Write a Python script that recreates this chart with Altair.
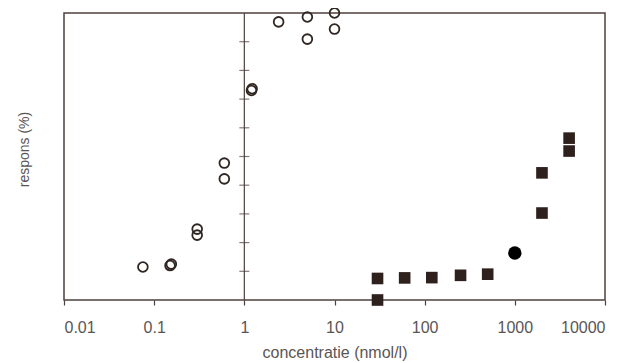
import altair as alt
import pandas as pd

# open circles (agonist 1)
open_x = [0.075, 0.15, 0.155, 0.3, 0.3, 0.6, 0.6, 1.2, 1.22, 2.4, 5, 5, 10, 10]
open_y = [11.5, 12.0, 12.5, 22.6, 24.7, 42.2, 47.7, 73.0, 73.6, 96.9, 98.6, 90.9, 100.0, 94.4]

# filled squares (agonist 2)
sq_x = [30, 30, 60, 120, 250, 500, 2000, 2000, 4000, 4000]
sq_y = [7.5, 0.0, 7.7, 7.8, 8.6, 9.0, 30.3, 44.3, 56.4, 51.9]

# filled circle
dot_x = [1000]
dot_y = [16.4]

x_ticks = [0.01, 0.1, 1, 10, 100, 1000, 10000]
y_ticks = [10, 20, 30, 40, 50, 60, 70, 80, 90]

LINE = "#4d403c"
TEXT = "#5a5555"
FONT = "Liberation Sans"

xscale = alt.Scale(type="log", domain=[0.01, 10000], nice=False)
yscale = alt.Scale(domain=[0, 100], nice=False, zero=False)

xaxis = alt.Axis(
    values=x_ticks, format="~g", grid=False, domain=False,
    tickSize=5, tickColor=LINE, tickWidth=1.2,
    labelFont=FONT, labelFontSize=16, labelColor=TEXT, labelPadding=14,
    title="concentratie (nmol/l)", titleFont=FONT, titleFontSize=16,
    titleFontWeight="normal", titleColor=TEXT,
    titleX=270.5, titleY=52, titleBaseline="middle", titleAlign="center",
)
yaxis = alt.Axis(
    grid=False, domain=False, ticks=False, labels=False,
    title="respons (%)", titleFont=FONT, titleFontSize=14,
    titleFontWeight="normal", titleColor=TEXT,
    titleX=-40, titleY=136, titleAngle=270, titleBaseline="middle", titleAlign="center",
)

open_df = pd.DataFrame({"x": open_x, "y": open_y})
sq_df = pd.DataFrame({"x": sq_x, "y": sq_y})
dot_df = pd.DataFrame({"x": dot_x, "y": dot_y})
vline_df = pd.DataFrame({"x": [1], "y": [0], "y2": [100]})
tick_df = pd.DataFrame({"x": [1] * len(y_ticks), "y": y_ticks})

base_x = alt.X("x:Q", scale=xscale, axis=xaxis)
base_y = alt.Y("y:Q", scale=yscale, axis=yaxis)

vline = alt.Chart(vline_df).mark_rule(color=LINE, strokeWidth=1.2).encode(
    x=base_x, y=base_y, y2="y2:Q"
)
ticks = alt.Chart(tick_df).mark_tick(
    orient="horizontal", size=10, thickness=1.2, color=LINE
).encode(x=base_x, y=base_y)

opens = alt.Chart(open_df).mark_point(
    shape="circle", filled=False, size=95, strokeWidth=1.8, color="#302622", opacity=1
).encode(x=base_x, y=base_y)

squares = alt.Chart(sq_df).mark_point(
    shape="square", filled=True, size=135, color="#2e201c", opacity=1
).encode(x=base_x, y=base_y)

dot = alt.Chart(dot_df).mark_point(
    shape="circle", filled=True, size=180, color="#000000", opacity=1
).encode(x=base_x, y=base_y)

chart = alt.layer(vline, ticks, opens, squares, dot).properties(
    width=541, height=287,
    autosize=alt.AutoSizeParams(type="none"),
    padding={"left": 56, "top": 5, "right": 18, "bottom": 62},
    background="white",
).configure_view(stroke=LINE, strokeWidth=1.5)

chart.save("out.html", embed_options={"renderer": "svg", "actions": False})
